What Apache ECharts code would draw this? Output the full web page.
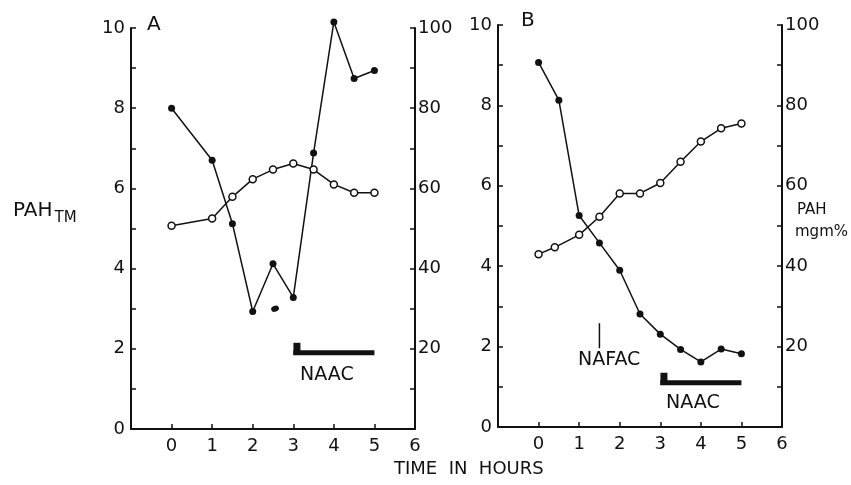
<!DOCTYPE html>
<html>
<head>
<meta charset="utf-8">
<script src="https://cdn.jsdelivr.net/npm/echarts@6/dist/echarts.min.js"></script>
<style>
  html, body { margin: 0; padding: 0; background: #fff; }
  #main { width: 851px; height: 485px; }
</style>
</head>
<body>
<div id="main"></div>
<script>
// panel A
const hoursA = [0, 1, 1.5, 2, 2.5, 3, 3.5, 4, 4.5, 5];
const pahTmA = [8.0, 6.7, 5.12, 2.93, 4.12, 3.28, 6.88, 10.15, 8.74, 8.94];
const pahMgA = [50.7, 52.5, 57.9, 62.3, 64.7, 66.2, 64.7, 61.0, 58.9, 58.9];
const strayA = [[2.55, 3.0]];
const naacA = [3, 5, 1.9];

// panel B
const hoursTmB = [0, 0.5, 1, 1.5, 2, 2.5, 3, 3.5, 4, 4.5, 5];
const pahTmB = [9.07, 8.13, 5.26, 4.58, 3.9, 2.81, 2.31, 1.93, 1.62, 1.94, 1.82];
const hoursMgB = [0, 0.4, 1, 1.5, 2, 2.5, 3, 3.5, 4, 4.5, 5];
const pahMgB = [43.0, 44.7, 47.8, 52.3, 58.1, 58.1, 60.7, 66.0, 71.0, 74.3, 75.5];
const nafacB = [1.5, 1.96, 2.58];
const naacB = [3, 5, 1.1];

const FONT = 'DejaVu Sans';
const INK = '#111';

const zip = (xs, ys) => xs.map((x, i) => [x, ys[i]]);

function xAxisFor(grid) {
  return {
    type: 'value', gridIndex: grid, min: -1, max: 6, interval: 1,
    axisLine: { onZero: false, lineStyle: { color: INK, width: 2 } },
    axisTick: { inside: true, length: 5, lineStyle: { color: INK, width: 1.5 } },
    splitLine: { show: false },
    axisLabel: {
      color: INK, fontFamily: FONT, fontSize: 18, margin: 8,
      formatter: v => (v < 0 ? '' : v)
    }
  };
}

function yLeft(grid) {
  return {
    type: 'value', gridIndex: grid, min: 0, max: 10, interval: 1,
    axisLine: { show: true, onZero: false, lineStyle: { color: INK, width: 2 } },
    axisTick: { show: true, inside: true, length: 5, lineStyle: { color: INK, width: 1.5 } },
    splitLine: { show: false },
    axisLabel: {
      color: INK, fontFamily: FONT, fontSize: 18, margin: 6,
      formatter: v => (v % 2 === 0 ? v : '')
    }
  };
}

function yRight(grid) {
  return {
    type: 'value', gridIndex: grid, position: 'right', min: 0, max: 100, interval: 10,
    axisLine: { show: true, onZero: false, lineStyle: { color: INK, width: 2 } },
    axisTick: { show: true, inside: true, length: 5, lineStyle: { color: INK, width: 1.5 } },
    splitLine: { show: false },
    axisLabel: {
      color: INK, fontFamily: FONT, fontSize: 18, margin: 3,
      formatter: v => (v % 20 === 0 && v > 0 ? v : '')
    }
  };
}

const filled = { color: INK, opacity: 1 };
const open = { color: '#fff', borderColor: INK, borderWidth: 1.5, opacity: 1 };

function curve(xi, yi, data, style) {
  return {
    type: 'line', xAxisIndex: xi, yAxisIndex: yi, data: data,
    symbol: 'circle', symbolSize: 7, showSymbol: true, clip: false,
    lineStyle: { color: INK, width: 1.5 }, itemStyle: style,
    animation: false, z: 3
  };
}

function bar(xi, yi, spec) {
  return [
    {
      type: 'line', xAxisIndex: xi, yAxisIndex: yi,
      data: [[spec[0], spec[2]], [spec[1], spec[2]]],
      symbol: 'none', lineStyle: { color: INK, width: 5 }, animation: false
    },
    {
      type: 'scatter', xAxisIndex: xi, yAxisIndex: yi,
      data: [[spec[0] + 0.09, spec[2] + 0.1]],
      symbol: 'rect', symbolSize: [7, 12], itemStyle: { color: INK, opacity: 1 }, animation: false
    }
  ];
}

const chart = echarts.init(document.getElementById('main'));
chart.setOption({
  backgroundColor: '#fff',
  grid: [
    { left: 131, top: 28, width: 284, height: 401 },
    { left: 498, top: 25, width: 284, height: 402 }
  ],
  xAxis: [xAxisFor(0), xAxisFor(1)],
  yAxis: [yLeft(0), yRight(0), yLeft(1), yRight(1)],
  series: [
    curve(0, 0, zip(hoursA, pahTmA), filled),
    curve(0, 1, zip(hoursA, pahMgA), open),
    {
      type: 'scatter', xAxisIndex: 0, yAxisIndex: 0, data: strayA,
      symbol: 'circle', symbolSize: [8, 6], symbolRotate: 20,
      itemStyle: filled, animation: false
    },
    ...bar(0, 0, naacA),
    curve(1, 2, zip(hoursTmB, pahTmB), filled),
    curve(1, 3, zip(hoursMgB, pahMgB), open),
    {
      type: 'line', xAxisIndex: 1, yAxisIndex: 2,
      data: [[nafacB[0], nafacB[1]], [nafacB[0], nafacB[2]]],
      symbol: 'none', lineStyle: { color: INK, width: 1.5 }, animation: false
    },
    ...bar(1, 2, naacB)
  ],
  graphic: [
    { type: 'text', left: 147, top: 15, style: { text: 'A', font: '20px "DejaVu Sans"', fill: INK } },
    { type: 'text', left: 521, top: 11, style: { text: 'B', font: '20px "DejaVu Sans"', fill: INK } },
    {
      type: 'text', left: 13, top: 201,
      style: {
        text: '{a|PAH}{b|TM}',
        rich: {
          a: { fontFamily: FONT, fontSize: 20, fill: INK, verticalAlign: 'top' },
          b: { fontFamily: FONT, fontSize: 15, fill: INK, padding: [10, 0, 0, 2] }
        }
      }
    },
    { type: 'text', left: 797, top: 203, style: { text: 'PAH', font: '15px "DejaVu Sans"', fill: INK } },
    { type: 'text', left: 795, top: 225, style: { text: 'mgm%', font: '15px "DejaVu Sans"', fill: INK } },
    { type: 'text', left: 300, top: 366, style: { text: 'NAAC', font: '19px "DejaVu Sans"', fill: INK } },
    { type: 'text', left: 666, top: 394, style: { text: 'NAAC', font: '19px "DejaVu Sans"', fill: INK } },
    { type: 'text', left: 578, top: 351, style: { text: 'NAFAC', font: '19px "DejaVu Sans"', fill: INK } },
    { type: 'text', left: 394, top: 460, style: { text: 'TIME  IN  HOURS', font: '18px "DejaVu Sans"', fill: INK } }
  ]
});
</script>
</body>
</html>
